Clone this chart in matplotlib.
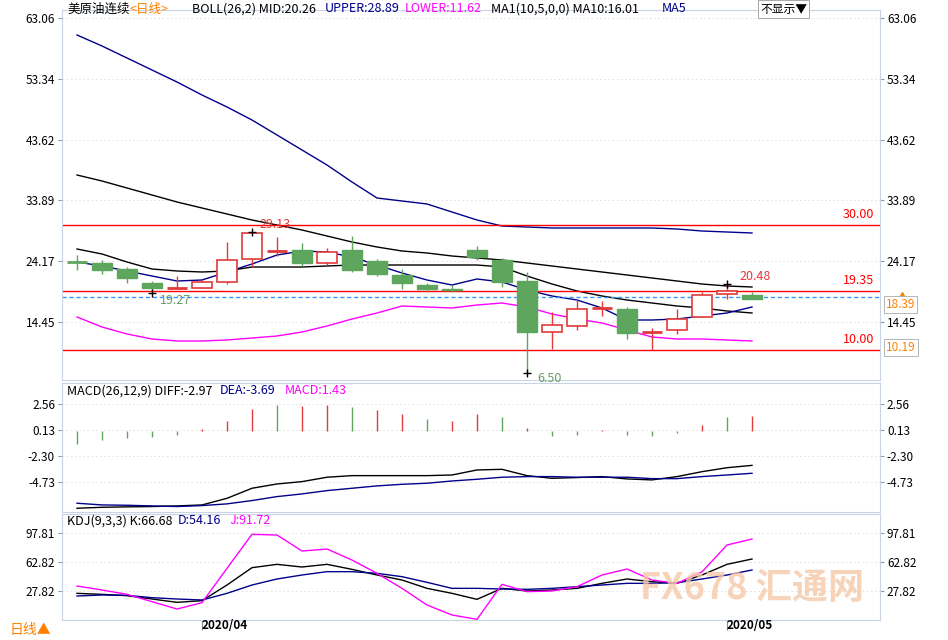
import matplotlib
matplotlib.use("Agg")
import matplotlib.pyplot as plt
from matplotlib.patches import Rectangle

plt.rcParams['font.family'] = ['Noto Sans CJK SC', 'DejaVu Sans']

# candles: open, close, high, low
opens = [24.02, 23.86, 22.90, 20.66, 19.86, 19.86, 20.82, 24.50, 25.78, 25.94, 23.86, 25.94, 24.18, 21.94,
         20.34, 19.70, 25.94, 24.34, 20.98, 12.82, 13.78, 16.66, 16.50, 12.82, 13.14, 15.22, 18.90, 18.74]
closes = [24.02, 22.74, 21.46, 19.86, 19.86, 20.82, 24.34, 28.66, 25.78, 23.86, 25.62, 22.74, 22.10, 20.66,
          19.70, 19.54, 24.82, 20.82, 12.82, 13.94, 16.50, 16.66, 12.66, 12.82, 14.90, 18.74, 19.38, 18.10]
highs = [25.14, 24.34, 23.22, 20.98, 21.78, 21.14, 27.22, 28.82, 28.02, 27.06, 26.26, 28.18, 24.50, 22.90,
         20.66, 20.34, 26.58, 24.66, 22.42, 16.02, 17.94, 17.78, 16.82, 13.46, 16.50, 19.22, 20.50, 19.22]
lows = [22.74, 22.10, 20.66, 19.06, 19.86, 19.86, 20.50, 23.22, 24.98, 23.38, 23.54, 22.42, 21.78, 19.70,
        19.22, 19.22, 24.34, 20.02, 6.26, 10.10, 13.14, 15.38, 11.70, 9.94, 12.50, 15.22, 18.10, 18.10]

boll_upper = [60.34, 58.58, 56.66, 54.74, 52.82, 50.74, 48.82, 46.74, 44.34, 41.94, 39.54, 36.82, 34.26, 33.78,
              33.30, 32.02, 30.74, 29.78, 29.62, 29.46, 29.46, 29.46, 29.46, 29.46, 29.30, 28.98, 28.82, 28.66]
boll_mid = [37.94, 36.98, 35.86, 34.74, 33.62, 32.66, 31.70, 30.74, 29.94, 29.14, 28.18, 27.22, 26.42, 25.78,
            25.46, 24.98, 24.66, 24.34, 23.86, 23.38, 22.90, 22.42, 21.94, 21.46, 20.98, 20.50, 20.18, 20.02]
boll_lower = [15.22, 13.62, 12.50, 11.70, 11.38, 11.38, 11.54, 11.86, 12.18, 12.82, 13.78, 14.90, 15.86, 16.98,
              16.82, 16.66, 17.14, 17.46, 16.82, 15.70, 14.90, 14.26, 13.14, 12.02, 11.70, 11.70, 11.54, 11.38]
ma5 = [24.02, 23.38, 22.58, 21.78, 20.98, 21.14, 22.42, 23.70, 25.14, 25.78, 25.62, 24.82, 23.54, 22.26,
       21.14, 20.34, 21.30, 20.82, 19.54, 18.58, 17.94, 16.66, 14.74, 14.74, 14.90, 15.38, 15.86, 16.82]
ma10 = [26.10, 25.30, 24.02, 22.90, 22.58, 22.42, 22.58, 23.22, 23.22, 23.22, 23.38, 23.54, 23.54, 23.54,
        23.54, 23.54, 23.54, 23.22, 21.78, 20.50, 19.38, 18.58, 17.94, 17.46, 16.98, 16.66, 16.18, 15.86]

macd_hist = [-1.2, -0.8, -0.6, -0.5, -0.3, 0.2, 1.0, 2.1, 2.5, 2.4, 2.5, 2.3, 2.0, 1.6,
             1.2, 1.0, 1.6, 1.3, 0.3, -0.4, -0.3, 0.1, -0.3, -0.4, -0.2, 0.6, 1.3, 1.43]
macd_up = [0, 0, 0, 0, 0, 1, 1, 1, 0, 1, 1, 0, 1, 1, 0, 1, 1, 0, 1, 0, 0, 1, 0, 0, 0, 1, 0, 1]
diff = [-7.19, -7.10, -7.06, -7.03, -6.97, -6.88, -6.26, -5.32, -4.92, -4.70, -4.29, -4.14, -4.14, -4.14,
        -4.14, -4.08, -3.61, -3.55, -4.14, -4.39, -4.32, -4.23, -4.45, -4.54, -4.23, -3.77, -3.40, -3.18]
dea = [-6.72, -6.88, -6.91, -6.97, -7.03, -6.94, -6.78, -6.47, -6.10, -5.85, -5.54, -5.32, -5.10, -4.95,
       -4.85, -4.64, -4.48, -4.29, -4.23, -4.23, -4.29, -4.29, -4.29, -4.42, -4.42, -4.23, -4.08, -3.92]

k_line = [24.96, 23.75, 22.13, 18.08, 14.03, 16.06, 35.08, 56.13, 60.17, 56.94, 60.17, 54.10, 47.22, 41.15,
          31.03, 24.96, 17.68, 31.03, 27.80, 29.01, 31.03, 37.11, 42.37, 39.13, 37.11, 47.22, 60.17, 66.65]
d_line = [21.72, 22.94, 22.53, 19.70, 18.08, 16.87, 24.96, 35.08, 42.37, 47.22, 51.27, 51.27, 49.25, 45.20,
          38.32, 31.03, 31.03, 30.22, 29.82, 31.03, 33.06, 35.08, 37.11, 37.11, 37.92, 42.37, 47.22, 53.29]
j_line = [33.87, 29.01, 23.75, 14.85, 5.94, 13.63, 55.32, 96.60, 95.79, 76.36, 78.79, 65.43, 49.25, 31.03,
          10.80, -1.34, -6.60, 35.89, 26.99, 27.80, 33.06, 47.22, 54.51, 41.15, 37.11, 51.0, 83.65, 90.93]

price_ticks = [63.06, 53.34, 43.62, 33.89, 24.17, 14.45]
macd_ticks = [2.56, 0.13, -2.30, -4.73]
kdj_ticks = [97.81, 62.82, 27.82]
hlines = [30.00, 19.35, 10.00]
last_price = 18.39
date_labels = [(5, "2020/04"), (26, "2020/05")]

RED = "#e03a3a"
GREEN = "#5ea65e"
NAVY = "#00008b"
MAG = "#ff00ff"
ORANGE = "#ff8000"
W, H = 948, 640


def box(y0, y1):
    return [62 / W, 1 - y1 / H, (880 - 62) / W, (y1 - y0) / H]


fig = plt.figure(figsize=(9.48, 6.4), dpi=100)
fig.patch.set_facecolor("white")
xs = list(range(len(opens)))
XL = (-0.6, 32.12)


def style(ax, ticks, fmt):
    ax.set_xlim(*XL)
    ax.set_xticks([])
    ax.set_yticks(ticks)
    ax.set_yticklabels([fmt.format(t) for t in ticks], fontsize=8.5)
    ax.tick_params(axis="y", length=3, color="#999999", labelright=True, right=True, pad=2)
    for s in ax.spines.values():
        s.set_color("#c8d4e4")
        s.set_linewidth(0.8)
    for t in ticks:
        ax.axhline(t, color="#dddddd", lw=0.6, ls=(0, (2, 3)), zorder=0)


# price panel
ax = fig.add_axes(box(10, 380))
ax.set_ylim(5.14, 64.34)
style(ax, price_ticks, "{:.2f}")
ax.plot(xs, boll_upper, color=NAVY, lw=1)
ax.plot(xs, boll_mid, color="black", lw=1)
ax.plot(xs, boll_lower, color=MAG, lw=1)
ax.plot(xs, ma10, color="black", lw=1)
ax.plot(xs, ma5, color=NAVY, lw=1)
for i in xs:
    o, c, h, l = opens[i], closes[i], highs[i], lows[i]
    up = c >= o
    col = RED if up and i not in (0,) else GREEN
    ax.vlines(i, l, h, color=col, lw=1, zorder=3)
    if abs(c - o) < 0.05:
        ax.hlines(o, i - 0.4, i + 0.4, color=col, lw=2, zorder=4)
    elif up:
        ax.add_patch(Rectangle((i - 0.4, o), 0.8, c - o, facecolor="white", edgecolor=RED, lw=1.2, zorder=4))
    else:
        ax.add_patch(Rectangle((i - 0.4, c), 0.8, o - c, facecolor=GREEN, edgecolor=GREEN, lw=1, zorder=4))
for v in hlines:
    ax.axhline(v, color="red", lw=1, zorder=2)
    ax.text(31.9, v + 0.6, f"{v:.2f}", color="red", fontsize=9, ha="right", va="bottom")
ax.axhline(last_price, color="#3399ff", lw=1, ls=(0, (3, 2)), zorder=2)
ax.text(32.35, 17.2, f"{last_price:.2f}", color=ORANGE, fontsize=8.5, ha="left", va="center",
        bbox=dict(facecolor="white", edgecolor="#aaaaaa", lw=0.6, pad=1.5), clip_on=False)
ax.text(32.35, 10.4, "10.19", color=ORANGE, fontsize=8.5, ha="left", va="center",
        bbox=dict(facecolor="white", edgecolor="#aaaaaa", lw=0.6, pad=1.5), clip_on=False)
ax.plot([33.0], [18.8], marker="^", color=ORANGE, ms=5, clip_on=False)
ax.annotate("29.13", (7, highs[7]), xytext=(7.3, 29.4), color=RED, fontsize=9)
ax.annotate("19.27", (3, lows[3]), xytext=(3.3, 17.3), color="#6a9c6a", fontsize=9)
ax.annotate("6.50", (18, lows[18]), xytext=(18.4, 4.9), color="#6a9c6a", fontsize=9, annotation_clip=False)
ax.annotate("20.48", (26, highs[26]), xytext=(26.5, 21.2), color=RED, fontsize=9)
for i in (3, 7, 18, 26):
    y = lows[i] if i in (3, 18) else highs[i]
    ax.plot([i], [y], marker="+", color="black", ms=6, zorder=5)

# title legend
ty = 1 - 9 / H
fig.text(67 / W, ty, "美原油连续", fontsize=9, va="center")
fig.text(130 / W, ty, "<日线>", fontsize=9, va="center", color=ORANGE)
fig.text(192 / W, ty, "BOLL(26,2) MID:20.26", fontsize=9, va="center")
fig.text(325 / W, ty, "UPPER:28.89", fontsize=9, va="center", color=NAVY)
fig.text(405 / W, ty, "LOWER:11.62", fontsize=9, va="center", color=MAG)
fig.text(491 / W, ty, "MA1(10,5,0,0) MA10:16.01", fontsize=9, va="center")
fig.text(662 / W, ty, "MA5", fontsize=9, va="center", color=NAVY)
fig.text(760 / W, ty, "不显示▼", fontsize=8.5, va="center",
         bbox=dict(facecolor="white", edgecolor="#999999", lw=0.6, pad=1.5))

# macd panel
ax2 = fig.add_axes(box(383, 512))
ax2.set_ylim(-7.54, 4.52)
style(ax2, macd_ticks, "{:.2f}")
for i in xs:
    ax2.vlines(i, 0, macd_hist[i], color=RED if macd_up[i] else GREEN, lw=1)
ax2.plot(xs, diff, color="black", lw=1)
ax2.plot(xs, dea, color=NAVY, lw=1)
my = 1 - 391 / H
fig.text(67 / W, my, "MACD(26,12,9) DIFF:-2.97", fontsize=9, va="center")
fig.text(220 / W, my, "DEA:-3.69", fontsize=9, va="center", color=NAVY)
fig.text(285 / W, my, "MACD:1.43", fontsize=9, va="center", color=MAG)

# kdj panel
ax3 = fig.add_axes(box(514, 620))
ax3.set_ylim(-7.41, 121.3)
style(ax3, kdj_ticks, "{:.2f}")
ax3.plot(xs, k_line, color="black", lw=1)
ax3.plot(xs, d_line, color=NAVY, lw=1)
ax3.plot(xs, j_line, color=MAG, lw=1)
ky = 1 - 521 / H
fig.text(67 / W, ky, "KDJ(9,3,3) K:66.68", fontsize=9, va="center")
fig.text(178 / W, ky, "D:54.16", fontsize=9, va="center", color=NAVY)
fig.text(230 / W, ky, "J:91.72", fontsize=9, va="center", color=MAG)
ax3.text(0.98, 0.12, "FX678 汇通网", transform=ax3.transAxes, fontsize=26, color="#f5c9a8",
         ha="right", va="bottom", alpha=0.8, weight="bold")

# date axis
for idx, lab in date_labels:
    ax3.vlines(idx, -7.41, -20, color="#888888", lw=0.8, clip_on=False)
    ax3.text(idx, -14, lab, fontsize=8.5, weight="bold", ha="left", va="center", clip_on=False)
fig.text(10 / W, 1 - 630 / H, "日线▲", fontsize=10, va="center", color=ORANGE)

fig.savefig("out.png", dpi=100)
